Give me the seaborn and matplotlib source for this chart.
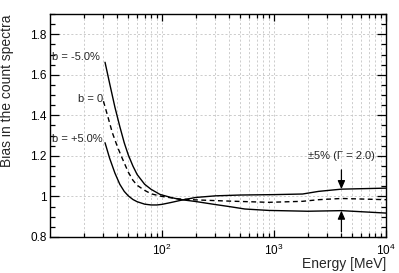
import matplotlib
matplotlib.use("Agg")
import matplotlib.pyplot as plt
import matplotlib.ticker as mticker
import numpy as np
import pandas as pd
import seaborn as sns

# values (energy in MeV, bias ratio)
energy_m5 = [31, 34, 38, 42, 46, 50, 55, 60, 70, 80, 96, 120, 145, 200, 300, 400,
             550, 900, 2000, 4000, 10000]
bias_m5 = [1.662, 1.56, 1.44, 1.345, 1.265, 1.205, 1.15, 1.108, 1.06, 1.035, 1.01,
           0.995, 0.985, 0.975, 0.960, 0.950, 0.938, 0.931, 0.927, 0.930, 0.918]

energy_0 = [30, 33, 36, 40, 44, 50, 55, 60, 70, 80, 100, 140, 200, 400, 900, 1800,
            2500, 4000, 10000]
bias_0 = [1.47, 1.39, 1.315, 1.245, 1.19, 1.12, 1.08, 1.055, 1.03, 1.013, 1.0, 0.988,
          0.983, 0.977, 0.971, 0.976, 0.984, 0.990, 0.984]

energy_p5 = [31, 34, 38, 42, 46, 50, 55, 60, 70, 80, 90, 100, 120, 150, 200, 300,
             500, 1000, 1800, 2500, 4000, 10000]
bias_p5 = [1.265, 1.19, 1.115, 1.06, 1.025, 1.003, 0.985, 0.974, 0.962, 0.958, 0.958,
           0.961, 0.970, 0.982, 0.995, 1.003, 1.007, 1.009, 1.012, 1.025, 1.036, 1.041]

curve_labels = ["b = -5.0%", "b = 0", "b = +5.0%"]
y_ticks = [0.8, 1.0, 1.2, 1.4, 1.6, 1.8]
x_ticks = [1e2, 1e3, 1e4]

sns.set_style("ticks")
plt.rcParams['font.family'] = ['Liberation Sans', 'DejaVu Sans']
plt.rcParams['mathtext.fontset'] = 'custom'
plt.rcParams['mathtext.rm'] = 'Liberation Sans'
plt.rcParams['mathtext.it'] = 'Liberation Sans:italic'

fig = plt.figure(figsize=(3.99, 2.73), dpi=100)
ax = fig.add_axes([0.1253, 0.1319, 0.8421, 0.8168])

ax.set_xscale('log')
ax.set_xlim(10, 1e4)
ax.set_ylim(0.8, 1.9)

# grid: all x decades + sub-decades, y majors
ax.grid(True, which='both', axis='x', color='#c4c4c4', linestyle=(0, (2.5, 2.5)), linewidth=0.6)
ax.grid(True, which='major', axis='y', color='#c4c4c4', linestyle=(0, (2.5, 2.5)), linewidth=0.6)
ax.set_axisbelow(True)

sns.lineplot(x=energy_m5, y=bias_m5, ax=ax, color='black', linewidth=1.0)
sns.lineplot(x=energy_0, y=bias_0, ax=ax, color='black', linewidth=1.0, linestyle=(0, (3.5, 2.5)))
sns.lineplot(x=energy_p5, y=bias_p5, ax=ax, color='black', linewidth=1.0)

# curve labels at the start of each curve
ax.text(10.5, 1.688, curve_labels[0], fontsize=8, ha='left', va='center')
ax.text(energy_0[0] - 0.3, 1.482, curve_labels[1], fontsize=8, ha='right', va='center')
ax.text(10.5, 1.283, curve_labels[2], fontsize=8, ha='left', va='center')

# +-5% annotation with arrows
ax.text(4000, 1.20, "±5% (Γ = 2.0)", fontsize=8, ha='center', va='center')
arrow = dict(arrowstyle='-|>,head_length=0.5,head_width=0.22', color='black', lw=0.9,
             shrinkA=0, shrinkB=0)
ax.annotate("", xy=(4000, 1.036), xytext=(4000, 1.131), arrowprops=arrow)
ax.annotate("", xy=(4000, 0.930), xytext=(4000, 0.826), arrowprops=arrow)

ax.xaxis.set_major_locator(mticker.FixedLocator(x_ticks))
ax.xaxis.set_major_formatter(mticker.LogFormatterSciNotation())
ax.xaxis.set_minor_locator(mticker.LogLocator(base=10, subs=np.arange(2, 10)))
ax.xaxis.set_minor_formatter(mticker.NullFormatter())
ax.yaxis.set_major_locator(mticker.FixedLocator(y_ticks))
ax.yaxis.set_major_formatter(mticker.FuncFormatter(lambda v, p: '%g' % v))
ax.yaxis.set_minor_locator(mticker.MultipleLocator(0.05))

ax.tick_params(which='both', direction='in', top=True, right=True, colors='black',
               labelsize=8.5, width=0.9)
ax.tick_params(axis='y', which='major', length=6.5, pad=2.5)
ax.tick_params(axis='y', which='minor', length=3.5)
ax.tick_params(axis='x', which='major', length=5, pad=4)
ax.tick_params(axis='x', which='minor', length=3)

for sp in ax.spines.values():
    sp.set_linewidth(1.0)
    sp.set_color('black')

ax.set_xlabel("Energy [MeV]", fontsize=10, loc='right')
ax.xaxis.set_label_coords(1.0, -0.09)
ax.set_ylabel("Bias in the count spectra", fontsize=10, loc='top')
ax.yaxis.set_label_coords(-0.107, 1.0)

fig.savefig("out.png", dpi=100)
